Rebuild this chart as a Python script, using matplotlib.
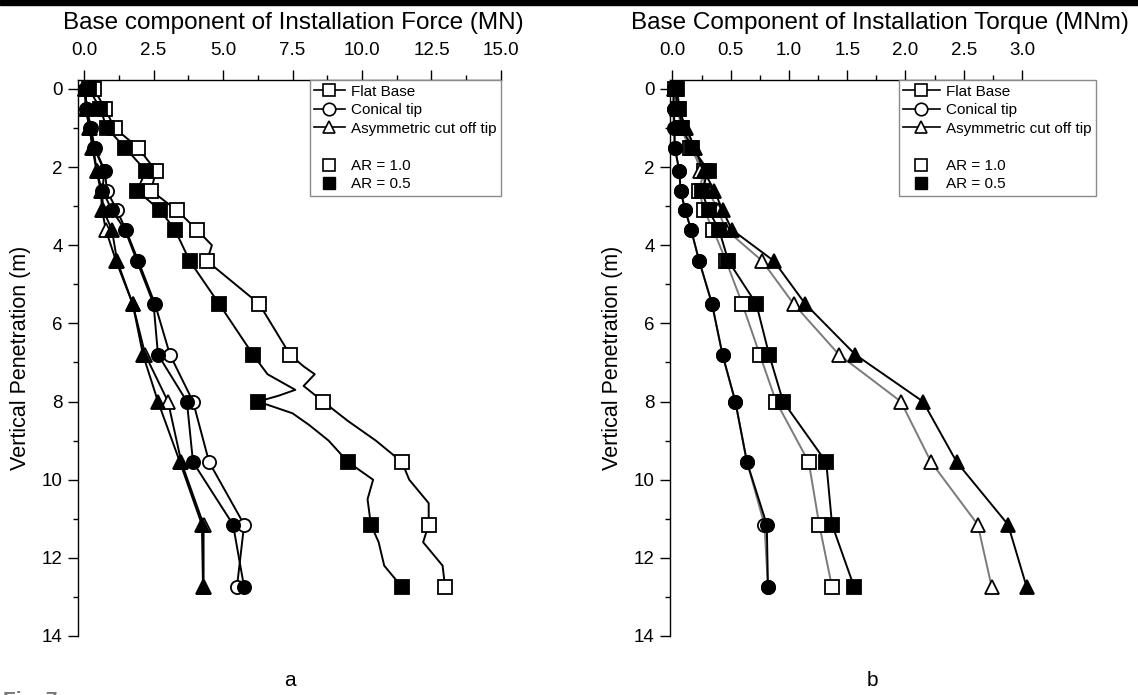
import numpy as np
import matplotlib.pyplot as plt
from matplotlib.lines import Line2D
from matplotlib.patches import Rectangle

plt.rcParams['font.family'] = ['Liberation Sans', 'DejaVu Sans']

# depths where the markers sit (m)
depth = [0, 0.5, 1.0, 1.5, 2.1, 2.6, 3.1, 3.6, 4.4, 5.5, 6.8, 8.0, 9.55, 11.15, 12.75]

# (a) base component of installation force (MN)
fa_flat_10 = [0.36, 0.75, 1.1, 1.94, 2.59, 2.41, 3.33, 4.06, 4.42, 6.3, 7.41, 8.6, 11.44, 12.4, 12.99]
fa_flat_05 = [0.18, 0.58, 0.82, 1.47, 2.23, 1.9, 2.73, 3.27, 3.8, 4.86, 6.08, 6.26, 9.5, 10.32, 11.44]
fa_cone_10 = [0.04, 0.1, 0.25, 0.38, 0.75, 0.82, 1.18, 1.5, 1.95, 2.55, 3.09, 3.92, 4.5, 5.76, 5.5]
fa_cone_05 = [0.04, 0.06, 0.2, 0.36, 0.73, 0.66, 1.0, 1.47, 1.9, 2.5, 2.66, 3.7, 3.92, 5.36, 5.76]
fa_asym_10 = [0.02, 0.1, 0.2, 0.3, 0.45, 0.6, 0.65, 0.78, 1.15, 1.75, 2.2, 3.02, 3.5, 4.3, 4.3]
fa_asym_05 = [0.02, 0.08, 0.18, 0.33, 0.46, 0.64, 0.69, 1.0, 1.19, 1.75, 2.12, 2.66, 3.45, 4.24, 4.28]

# traces with a few extra readings between markers (flat base, panel a)
fa_flat_10_d = [0, 0.5, 1.0, 1.5, 2.1, 2.6, 3.1, 3.6, 4.0, 4.4, 5.5, 6.8, 7.1, 7.3, 7.6, 8.0,
                8.5, 9.0, 9.55, 10.0, 10.6, 11.15, 11.6, 12.2, 12.75]
fa_flat_10_v = [0.36, 0.75, 1.1, 1.94, 2.59, 2.41, 3.33, 4.06, 4.6, 4.42, 6.3, 7.41, 7.9, 8.3, 7.9, 8.6,
                9.5, 10.5, 11.44, 11.7, 12.4, 12.4, 12.2, 12.9, 12.99]
fa_flat_05_d = [0, 0.5, 1.0, 1.5, 2.1, 2.6, 3.1, 3.6, 4.4, 5.5, 6.8, 7.3, 7.7, 7.85, 8.0,
                8.3, 8.6, 9.0, 9.55, 10.0, 10.5, 11.15, 11.6, 12.2, 12.75]
fa_flat_05_v = [0.18, 0.58, 0.82, 1.47, 2.23, 1.9, 2.73, 3.27, 3.8, 4.86, 6.08, 6.6, 7.6, 7.0, 6.26,
                7.5, 8.1, 8.8, 9.5, 10.4, 10.2, 10.32, 10.6, 10.8, 11.44]

# (b) base component of installation torque (MNm)
tb_flat_10 = [0.02, 0.05, 0.07, 0.15, 0.27, 0.23, 0.27, 0.35, 0.46, 0.6, 0.75, 0.89, 1.17, 1.26, 1.37]
tb_flat_05 = [0.04, 0.06, 0.08, 0.17, 0.31, 0.25, 0.31, 0.4, 0.48, 0.72, 0.83, 0.95, 1.32, 1.37, 1.56]
tb_cone_10 = [0.01, 0.01, 0.01, 0.02, 0.06, 0.07, 0.11, 0.16, 0.23, 0.34, 0.43, 0.54, 0.64, 0.79, 0.82]
tb_cone_05 = [0.01, 0.01, 0.02, 0.02, 0.06, 0.07, 0.11, 0.16, 0.23, 0.34, 0.43, 0.54, 0.64, 0.81, 0.82]
tb_asym_10 = [0.01, 0.04, 0.11, 0.18, 0.24, 0.31, 0.39, 0.46, 0.77, 1.04, 1.43, 1.96, 2.22, 2.62, 2.74]
tb_asym_05 = [0.02, 0.05, 0.12, 0.19, 0.27, 0.36, 0.43, 0.51, 0.87, 1.14, 1.57, 2.15, 2.44, 2.88, 3.04]

names = ['Flat Base', 'Conical tip', 'Asymmetric cut off tip']

fig = plt.figure(figsize=(11.38, 6.95), dpi=100)
ax1 = fig.add_axes([0.0685, 0.0849, 0.3717, 0.80])
ax2 = fig.add_axes([0.5888, 0.0849, 0.3093, 0.80])

ms = 9.5
lw = 1.4


def series(ax, d, v, marker, filled, lcolor, z, line_d=None, line_v=None):
    if line_d is None:
        line_d, line_v = d, v
    ax.plot(line_v, line_d, color=lcolor, lw=lw, zorder=z, clip_on=False)
    ax.plot(v, d, linestyle='none', marker=marker, ms=ms, mec='k', mew=1.3,
            mfc='k' if filled else 'white', zorder=z + 1, clip_on=False)


# panel a, all lines black
series(ax1, depth, fa_flat_10, 's', False, 'k', 2, fa_flat_10_d, fa_flat_10_v)
series(ax1, depth, fa_cone_10, 'o', False, 'k', 2)
series(ax1, depth, fa_asym_10, '^', False, 'k', 2)
series(ax1, depth, fa_flat_05, 's', True, 'k', 4, fa_flat_05_d, fa_flat_05_v)
series(ax1, depth, fa_cone_05, 'o', True, 'k', 4)
series(ax1, depth, fa_asym_05, '^', True, 'k', 4)

# panel b, AR = 1.0 with gray lines
series(ax2, depth, tb_flat_10, 's', False, '#7a7a7a', 2)
series(ax2, depth, tb_cone_10, 'o', False, '#7a7a7a', 2)
series(ax2, depth, tb_asym_10, '^', False, '#7a7a7a', 2)
series(ax2, depth, tb_flat_05, 's', True, 'k', 4)
series(ax2, depth, tb_cone_05, 'o', True, 'k', 4)
series(ax2, depth, tb_asym_05, '^', True, 'k', 4)

setup = [(ax1, (-0.22, 15), np.arange(0, 15.1, 2.5),
          'Base component of Installation Force (MN)', 0.51, 1.0, 2.0),
         (ax2, (-0.02, 3), np.arange(0, 3.01, 0.5),
          'Base Component of Installation Torque (MNm)', 0.595, 1.21, 2.4)]

for ax, xlim, xt, xlab, labx, legx, hl in setup:
    ax.set_xlim(*xlim)
    ax.set_ylim(14, -0.23)
    ax.xaxis.tick_top()
    ax.xaxis.set_label_position('top')
    ax.set_xticks(xt)
    ax.set_xticklabels(['%.1f' % v for v in xt])
    ax.set_xticks(xt[:-1] + (xt[1] - xt[0]) / 2, minor=True)
    ax.set_yticks(range(0, 15, 2))
    ax.set_yticks(range(1, 14, 2), minor=True)
    ax.spines['right'].set_visible(False)
    ax.spines['bottom'].set_visible(False)
    ax.spines['left'].set_bounds(14, -0.23)
    for s in ['top', 'left']:
        ax.spines[s].set_linewidth(1.0)
    ax.tick_params(which='major', length=7, width=1.0, labelsize=13.5, pad=8)
    ax.tick_params(axis='y', which='major', pad=4)
    ax.tick_params(which='minor', length=3.5, width=1.0)
    ax.set_xlabel(xlab, fontsize=17.5)
    ax.xaxis.set_label_coords(labx, 1.092)
    ax.xaxis.label.set_verticalalignment('baseline')
    ax.set_ylabel('Vertical Penetration (m)', fontsize=15.5, labelpad=8)
    ax.patch.set_alpha(0)

    handles = [Line2D([], [], color='k', lw=1.2, marker=m, ms=9, mfc='white', mec='k', mew=1.2)
               for m in ['s', 'o', '^']]
    handles += [Line2D([], [], linestyle='none', marker=None),
                Line2D([], [], linestyle='none', marker='s', ms=9, mfc='white', mec='k', mew=1.2),
                Line2D([], [], linestyle='none', marker='s', ms=9, mfc='k', mec='k')]
    labels = names + [' ', 'AR = 1.0', 'AR = 0.5']
    leg = ax.legend(handles, labels, loc='upper right', bbox_to_anchor=(legx, 1.0), fontsize=11,
                    frameon=True, fancybox=False, framealpha=1, edgecolor='#8a8a8a',
                    borderaxespad=0, borderpad=0.3, labelspacing=0.3, handlelength=hl,
                    handletextpad=0.4)
    leg.get_frame().set_linewidth(1.0)
    leg.set_zorder(10)

fig.text(0.255, 0.013, 'a', fontsize=15, ha='center')
fig.text(0.767, 0.013, 'b', fontsize=15, ha='center')
fig.text(0.003, -0.022, 'Fig. 7', fontsize=15, fontweight='bold', color='#777777', va='bottom')

# thick rule across the top of the page
fig.patches.append(Rectangle((0, 0.993), 1, 0.007, transform=fig.transFigure,
                             color='k', zorder=0))

plt.savefig('out.png', dpi=100)
